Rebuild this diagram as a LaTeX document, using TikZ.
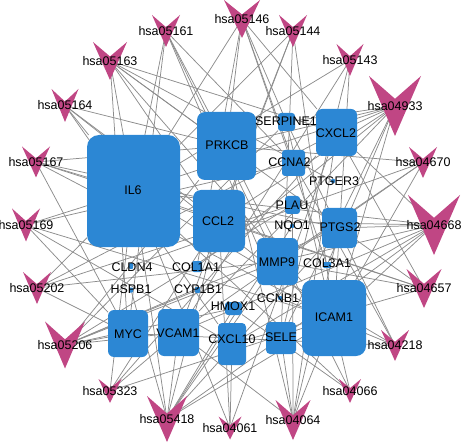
\documentclass[tikz,border=0pt]{standalone}
\usepackage{fontspec}
\setmainfont{Liberation Sans}
\usetikzlibrary{backgrounds}
\definecolor{genec}{RGB}{44,135,212}
\definecolor{pwc}{RGB}{192,70,132}
\definecolor{edgec}{RGB}{140,140,140}
\newcommand\pway[6]{%
  \coordinate (#1) at (#2,#3);
  \fill[pwc] (#2,#3) ++(-#4/2,-#5/2) -- ++(#4/2,0.38*#5) -- ++(#4/2,-0.38*#5) -- ++(-#4/2,#5) -- cycle;
  \node[lbl] (l#1) at (#2,#3) {#6};}
\newcommand\gbox[6]{\node[gene,minimum width=#4,minimum height=#5,rounded corners=#6] (#1) at (#2,#3) {};}
\newcommand\glbl[3]{\node[lbl] (t#1) at (#2,#3) {#1};}
\newcommand\conn[2]{\foreach \g in {#2}{\draw[edge] (#1) -- (\g);}}
\begin{document}
\begin{tikzpicture}[x=1pt,y=-1pt,
  gene/.style={fill=genec,inner sep=0pt,outer sep=0pt},
  lbl/.style={inner sep=0pt,font=\fontsize{12.5}{14}\selectfont},
  edge/.style={draw=edgec,line width=0.75pt}]
\useasboundingbox (0,0) rectangle (462,443);
% pathway nodes
\pway{p05146}{242}{19}{36}{38}{hsa05146}
\pway{p05161}{166}{31}{28}{32}{hsa05161}
\pway{p05163}{110}{61}{34}{38}{hsa05163}
\pway{p05164}{65}{105.5}{27}{33}{hsa05164}
\pway{p05167}{36}{162}{28}{31}{hsa05167}
\pway{p05169}{26}{225}{28}{33}{hsa05169}
\pway{p05202}{37}{288}{28}{32}{hsa05202}
\pway{p05206}{65}{345}{40}{47}{hsa05206}
\pway{p05323}{110}{391}{23}{24}{hsa05323}
\pway{p05418}{167}{419}{40}{46}{hsa05418}
\pway{p04061}{230}{428}{23}{23}{hsa04061}
\pway{p04064}{293}{420}{35}{40}{hsa04064}
\pway{p04066}{350}{391}{22}{24}{hsa04066}
\pway{p04218}{395}{345.5}{28}{31}{hsa04218}
\pway{p04657}{424}{288.5}{35}{39}{hsa04657}
\pway{p04668}{434}{225}{52}{60}{hsa04668}
\pway{p04670}{423}{162.5}{28}{31}{hsa04670}
\pway{p04933}{395}{106}{52}{60}{hsa04933}
\pway{p05143}{350}{60}{27}{32}{hsa05143}
\pway{p05144}{293}{31}{28}{32}{hsa05144}
% gene nodes
\gbox{IL6}{133.5}{191}{93}{112}{12}
\gbox{PRKCB}{226.5}{146}{59}{68}{8}
\gbox{SERPINE1}{286.5}{122}{17}{18}{3}
\gbox{CXCL2}{336.5}{132.5}{41}{47}{6}
\gbox{CCNA2}{293.5}{163}{23}{26}{3}
\gbox{PTGER3}{333}{181}{4}{4}{1}
\gbox{PLAU}{292.5}{205}{15}{18}{3}
\gbox{NQO1}{292}{226}{4}{4}{1}
\gbox{PTGS2}{339.5}{228}{35}{40}{5}
\gbox{CCL2}{219}{221}{52}{62}{8}
\gbox{MMP9}{277.5}{261.5}{41}{47}{6}
\gbox{COL3A1}{327}{265}{8}{6}{1}
\gbox{CLDN4}{131}{266}{4}{6}{1}
\gbox{COL1A1}{197}{266.5}{10}{11}{2}
\gbox{HSPB1}{131}{290}{4}{5}{1}
\gbox{CYP1B1}{197.5}{290}{5}{6}{1}
\gbox{HMOX1}{233.5}{308.5}{17}{13}{3}
\gbox{CCNB1}{280}{298}{4}{4}{1}
\gbox{MYC}{128}{333.5}{40}{47}{6}
\gbox{VCAM1}{178.5}{332.5}{41}{47}{6}
\gbox{CXCL10}{232}{344}{28}{42}{4}
\gbox{SELE}{281}{338}{30}{32}{4}
\gbox{ICAM1}{334}{318}{64}{76}{10}
% gene labels
\glbl{IL6}{133}{190}
\glbl{PRKCB}{227}{145}
\glbl{SERPINE1}{286}{121}
\glbl{CXCL2}{336}{133}
\glbl{CCNA2}{289.5}{162}
\glbl{PTGER3}{334}{181}
\glbl{PLAU}{292}{205}
\glbl{NQO1}{292}{226}
\glbl{PTGS2}{340}{227}
\glbl{CCL2}{218}{221}
\glbl{MMP9}{277}{262}
\glbl{COL3A1}{327}{263}
\glbl{CLDN4}{132}{267}
\glbl{COL1A1}{196}{267}
\glbl{HSPB1}{131}{289}
\glbl{CYP1B1}{198}{289}
\glbl{HMOX1}{233}{306}
\glbl{CCNB1}{278}{298}
\glbl{MYC}{128}{334}
\glbl{VCAM1}{178}{333}
\glbl{CXCL10}{232}{339}
\glbl{SELE}{281}{337}
\glbl{ICAM1}{334}{317}
% edges
\begin{pgfonlayer}{background}
\conn{p05146}{IL6,PRKCB,COL1A1,COL3A1,CXCL2,SERPINE1,CCNA2}
\conn{p05161}{IL6,PRKCB,CCNA2,MYC,MMP9,CCNB1}
\conn{p05163}{IL6,PRKCB,CCL2,PTGS2,MYC,CXCL2,ICAM1,PTGER3}
\conn{p05164}{IL6,PRKCB,CCL2,CXCL10,ICAM1}
\conn{p05167}{IL6,PTGS2,ICAM1,MYC,PRKCB,CCL2}
\conn{p05169}{IL6,ICAM1,MYC,CCNA2,CXCL10}
\conn{p05202}{IL6,MYC,MMP9,PLAU,CXCL2}
\conn{p05206}{PRKCB,MYC,PTGS2,SERPINE1,HMOX1,MMP9,VCAM1,PLAU,CYP1B1}
\conn{p05323}{IL6,CCL2,ICAM1,VCAM1,CXCL2}
\conn{p05418}{IL6,CCL2,MMP9,VCAM1,ICAM1,SELE,HMOX1,NQO1,PTGS2,HSPB1}
\conn{p04061}{IL6,CCL2,CXCL10,CXCL2}
\conn{p04064}{ICAM1,VCAM1,SELE,PTGS2,PRKCB,CXCL2,PLAU}
\conn{p04066}{IL6,SERPINE1,HMOX1,PRKCB}
\conn{p04218}{IL6,MYC,SERPINE1,CCNA2,CCNB1}
\conn{p04657}{IL6,CCL2,MMP9,PTGS2,CXCL2,CXCL10}
\conn{p04668}{IL6,CCL2,MMP9,PTGS2,CXCL2,CXCL10,ICAM1,VCAM1,SELE}
\conn{p04670}{ICAM1,VCAM1,CLDN4,PRKCB,MMP9}
\conn{p04933}{IL6,CCL2,SERPINE1,VCAM1,ICAM1,SELE,PRKCB,COL1A1,COL3A1,CXCL2}
\conn{p05143}{IL6,ICAM1,VCAM1,SELE}
\conn{p05144}{IL6,CCL2,ICAM1,VCAM1,SELE}
\end{pgfonlayer}
\end{tikzpicture}
\end{document}
